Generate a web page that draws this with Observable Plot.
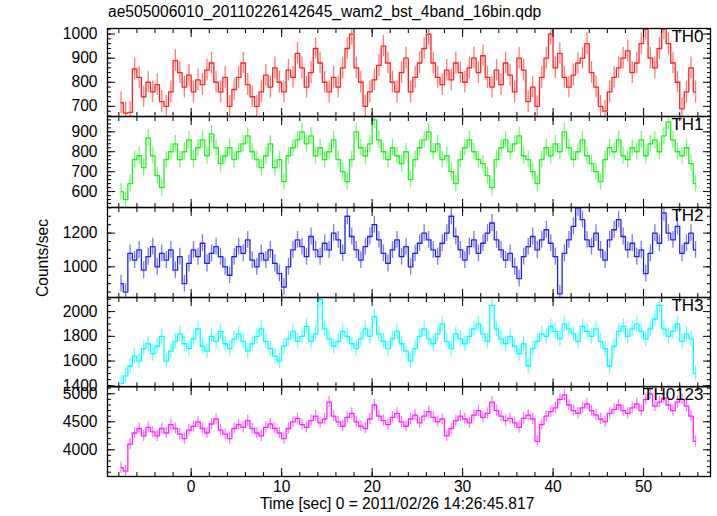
<!DOCTYPE html>
<html><head><meta charset="utf-8">
<script src="https://cdn.jsdelivr.net/npm/d3@7"></script>
<script src="https://cdn.jsdelivr.net/npm/@observablehq/plot@0.6"></script>
<style>
body{margin:0;background:#fff;}
#chart{position:relative;width:717px;height:516px;background:#fff;font-family:"Liberation Sans",Arial,Helvetica,sans-serif;color:#000;overflow:hidden;}
#chart svg{position:absolute;left:0;}
.lbl{position:absolute;font-size:15.6px;line-height:18px;white-space:nowrap;}
</style></head><body><div id="chart"></div>
<script>
// ---- data (count rates, 0.5 s bins starting at t = -8 s; two bins per line-pair) ----
const binStart = -8;
const binWidth = 0.5;
const th0 = [
 715,672, 675,855, 820,740, 800,760, 790,720, 700,760, 890,840, 780,830,
 760,810, 790,850, 880,800, 760,820, 700,770, 820,880, 790,740, 700,760,
 830,780, 860,800, 760,850, 820,920, 860,780, 840,940, 880,800, 760,820,
 780,860, 940,1000, 860,800, 700,760, 810,870, 950,880, 800,760, 840,900,
 760,820, 880,940, 1000,880, 820,790, 850,810, 880,840, 800,860, 900,840,
 910,820, 780,850, 790,880, 830,760, 900,850, 720,780, 700,820, 900,1000,
 860,920, 820,780, 830,880, 900,960, 840,780, 700,680, 760,820, 860,900,
 930,840, 880,960, 1020,900, 860,940, 1020,960, 880,800, 690,760, 860,760];
const th1 = [
 600,560, 640,760, 780,720, 870,780, 680,620, 760,800, 840,760, 800,860,
 760,820, 860,780, 890,820, 740,780, 820,760, 800,840, 880,800, 760,720,
 780,840, 720,760, 650,780, 820,860, 900,840, 880,780, 820,760, 800,860,
 760,700, 650,760, 900,820, 780,840, 960,860, 800,760, 820,780, 740,800,
 660,760, 820,860, 900,800, 840,760, 780,700, 640,760, 820,860, 800,760,
 740,680, 620,760, 820,860, 800,840, 880,780, 760,700, 640,760, 820,780,
 840,800, 900,820, 760,800, 860,780, 740,700, 650,760, 820,800, 860,780,
 760,820, 800,860, 780,840, 860,800, 880,950, 860,800, 780,820, 740,640];
const th2 = [
 900,850, 1080,1040, 1100,980, 1060,1120, 1000,1080, 1040,1100, 980,1060, 900,1020,
 1100,1060, 1140,1020, 1080,1120, 1060,1000, 950,1060, 1120,1080, 1160,1040, 1000,1080,
 1040,1100, 1020,960, 880,1000, 1100,1160, 1120,1060, 1180,1100, 1060,1140, 1100,1200,
 1160,1080, 1300,1180, 1100,1040, 1120,1180, 1250,1160, 1080,1020, 1100,1160, 1060,1120,
 1000,1080, 1140,1200, 1160,1100, 1060,1140, 1200,1300, 1180,1100, 1040,1120, 1160,1080,
 1140,1200, 1260,1160, 1100,1040, 1080,1000, 930,1060, 1120,1180, 1100,1160, 1220,1140,
 1060,840, 1080,1160, 1240,1350, 1280,1160, 1120,1200, 1100,1040, 1160,1220, 1280,1180,
 1100,1140, 1060,1100, 960,1080, 1200,1140, 1320,1200, 1160,1240, 1080,1140, 1200,1100];
const th3 = [
 1420,1480, 1560,1640, 1600,1700, 1740,1660, 1720,1800, 1600,1680, 1760,1820, 1740,1700,
 1780,1860, 1720,1680, 1800,1760, 1840,1740, 1700,1780, 1820,1760, 1680,1740, 1800,1860,
 1760,1700, 1640,1600, 1720,1780, 1840,1760, 1800,1880, 1760,1820, 2100,1860, 1780,1720,
 1760,1840, 1800,1740, 1700,1780, 1860,1800, 1960,1820, 1760,1700, 1780,1840, 1740,1680,
 1600,1700, 1800,1860, 1780,1740, 1820,1900, 1760,1700, 1820,1780, 1740,1800, 1860,1900,
 1820,1760, 2050,1860, 1780,1740, 1800,1720, 1660,1740, 1560,1700, 1760,1820, 1800,1880,
 1840,1780, 1900,1860, 1820,1760, 1880,1840, 1800,1860, 1760,1700, 1560,1720, 1840,1880,
 1800,1860, 1900,1840, 1780,1860, 1940,2050, 1860,1800, 1840,1900, 1760,1820, 1780,1500];
const th0123 = [
 3680,3620, 4100,4300, 4380,4250, 4400,4320, 4250,4380, 4300,4450, 4380,4280, 4200,4350,
 4420,4500, 4380,4300, 4460,4550, 4350,4280, 4200,4380, 4450,4400, 4520,4380, 4300,4250,
 4400,4460, 4380,4300, 4200,4380, 4500,4560, 4450,4400, 4520,4600, 4480,4550, 4850,4600,
 4500,4420, 4580,4650, 4500,4420, 4380,4550, 4800,4600, 4520,4450, 4580,4650, 4500,4420,
 4550,4620, 4480,4600, 4680,4580, 4500,4550, 4250,4380, 4520,4600, 4550,4480, 4620,4700,
 4580,4650, 4850,4700, 4600,4520, 4560,4480, 4400,4560, 4620,4550, 4150,4450, 4600,4680,
 4750,4900, 4980,4800, 4700,4650, 4750,4820, 4700,4620, 4550,4500, 4650,4720, 4800,4700,
 4650,4750, 4820,4700, 4900,5000, 4780,4850, 4920,4800, 4700,4850, 4900,4780, 4600,4150];
const series = [th0, th1, th2, th3, th0123];
const names = ["TH0", "TH1", "TH2", "TH3", "TH0123"];
const errors = [45, 42, 50, 62, 100];          // typical 1-sigma error per panel
const yTicks = [[700,800,900,1000],[600,700,800,900],[1000,1200],[1400,1600,1800,2000],[4000,4500,5000]];
const xTicks = [0, 10, 20, 30, 40, 50];
const xTitle = "Time [sec] 0 = 2011/02/26 14:26:45.817";
const yTitle = "Counts/sec";
const title = "ae505006010_20110226142645_wam2_bst_4band_16bin.qdp";

// ---- scale / layout configuration ----
const yDomains = [[658,1023],[520,977],[818,1352],[1392,2114],[3523,5130]];
const yMinorStep = [20, 20, 50, 50, 100];
const xDomain = [-9.25, 57.4];
const colors = ["#ff2020", "#20ee20", "#2020f0", "#00ffff", "#ff20ff"];
const tops = [27.7, 115.7, 206.7, 296.7, 386];
const bottoms = [115.7, 206.7, 296.7, 386, 476];

const container = document.getElementById("chart");
const font = '"Liberation Sans",Arial,Helvetica,sans-serif';
const pad = 14;
const xMinor = d3.range(-8, 57, 2);
const fmt = d => String(d);

series.forEach((vals, k) => {
  const h = bottoms[k] - tops[k];
  const last = k === series.length - 1;
  const mb = last ? 30 : pad;
  const data = vals.map((v, i) => ({t: binStart + binWidth * (i + 0.5), v, lo: v - errors[k], hi: v + errors[k]}));
  const dom = yDomains[k];
  const st = yMinorStep[k];
  const yMinor = d3.range(Math.ceil(dom[0] / st) * st, dom[1], st);
  const color = colors[k];
  const noText = () => "";
  const marks = [
    Plot.ruleX(data, {x: "t", y1: "lo", y2: "hi", stroke: color, strokeOpacity: 0.6, strokeWidth: 1.3, clip: true}),
    Plot.lineY(data, {x: "t", y: "v", curve: "step", stroke: color, strokeWidth: 1.3, clip: true}),
    Plot.frame({stroke: "black", strokeWidth: 1.3}),
    Plot.axisY(yTicks[k], {anchor: "left", tickSize: -8, tickFormat: noText, label: null}),
    Plot.axisY(yTicks[k], {anchor: "right", tickSize: -8, tickFormat: noText, label: null}),
    Plot.axisY(yMinor, {anchor: "left", tickSize: -4, tickFormat: noText, label: null}),
    Plot.axisY(yMinor, {anchor: "right", tickSize: -4, tickFormat: noText, label: null}),
    Plot.axisY(yTicks[k], {anchor: "left", tickSize: 0, tickPadding: 10, label: null, fontSize: 15.6, tickFormat: fmt}),
    Plot.axisX(xTicks, {anchor: "top", tickSize: -8, tickFormat: noText, label: null}),
    Plot.axisX(xTicks, {anchor: "bottom", tickSize: -8, tickFormat: noText, label: null}),
    Plot.axisX(xMinor, {anchor: "top", tickSize: -4, tickFormat: noText, label: null}),
    Plot.axisX(xMinor, {anchor: "bottom", tickSize: -4, tickFormat: noText, label: null}),
    Plot.text([names[k]], {text: d => d, frameAnchor: "top-right", dx: -7, dy: 1, fontSize: 17, fill: "black", textAnchor: "end", lineAnchor: "top"})
  ];
  if (last) marks.push(Plot.axisX(xTicks, {anchor: "bottom", tickSize: 0, tickPadding: 4, label: null, fontSize: 15.6, tickFormat: fmt}));
  const svg = Plot.plot({
    width: 717,
    height: h + pad + mb,
    marginLeft: 107, marginRight: 7, marginTop: pad, marginBottom: mb,
    x: {domain: xDomain, label: null},
    y: {domain: dom, label: null},
    style: {background: "transparent", overflow: "visible", fontFamily: font, fontSize: "15.6px", color: "black"},
    marks
  });
  svg.style.top = (tops[k] - pad) + "px";
  container.append(svg);
});

function addLabel(text, css) {
  const d = document.createElement("div");
  d.className = "lbl";
  d.textContent = text;
  Object.assign(d.style, css);
  container.append(d);
}
addLabel(title, {left: "108px", top: "3px"});
addLabel(xTitle, {left: "260px", top: "495px"});
addLabel(yTitle, {left: "43px", top: "258px", transform: "translate(-50%,-50%) rotate(-90deg)"});
</script></body></html>
